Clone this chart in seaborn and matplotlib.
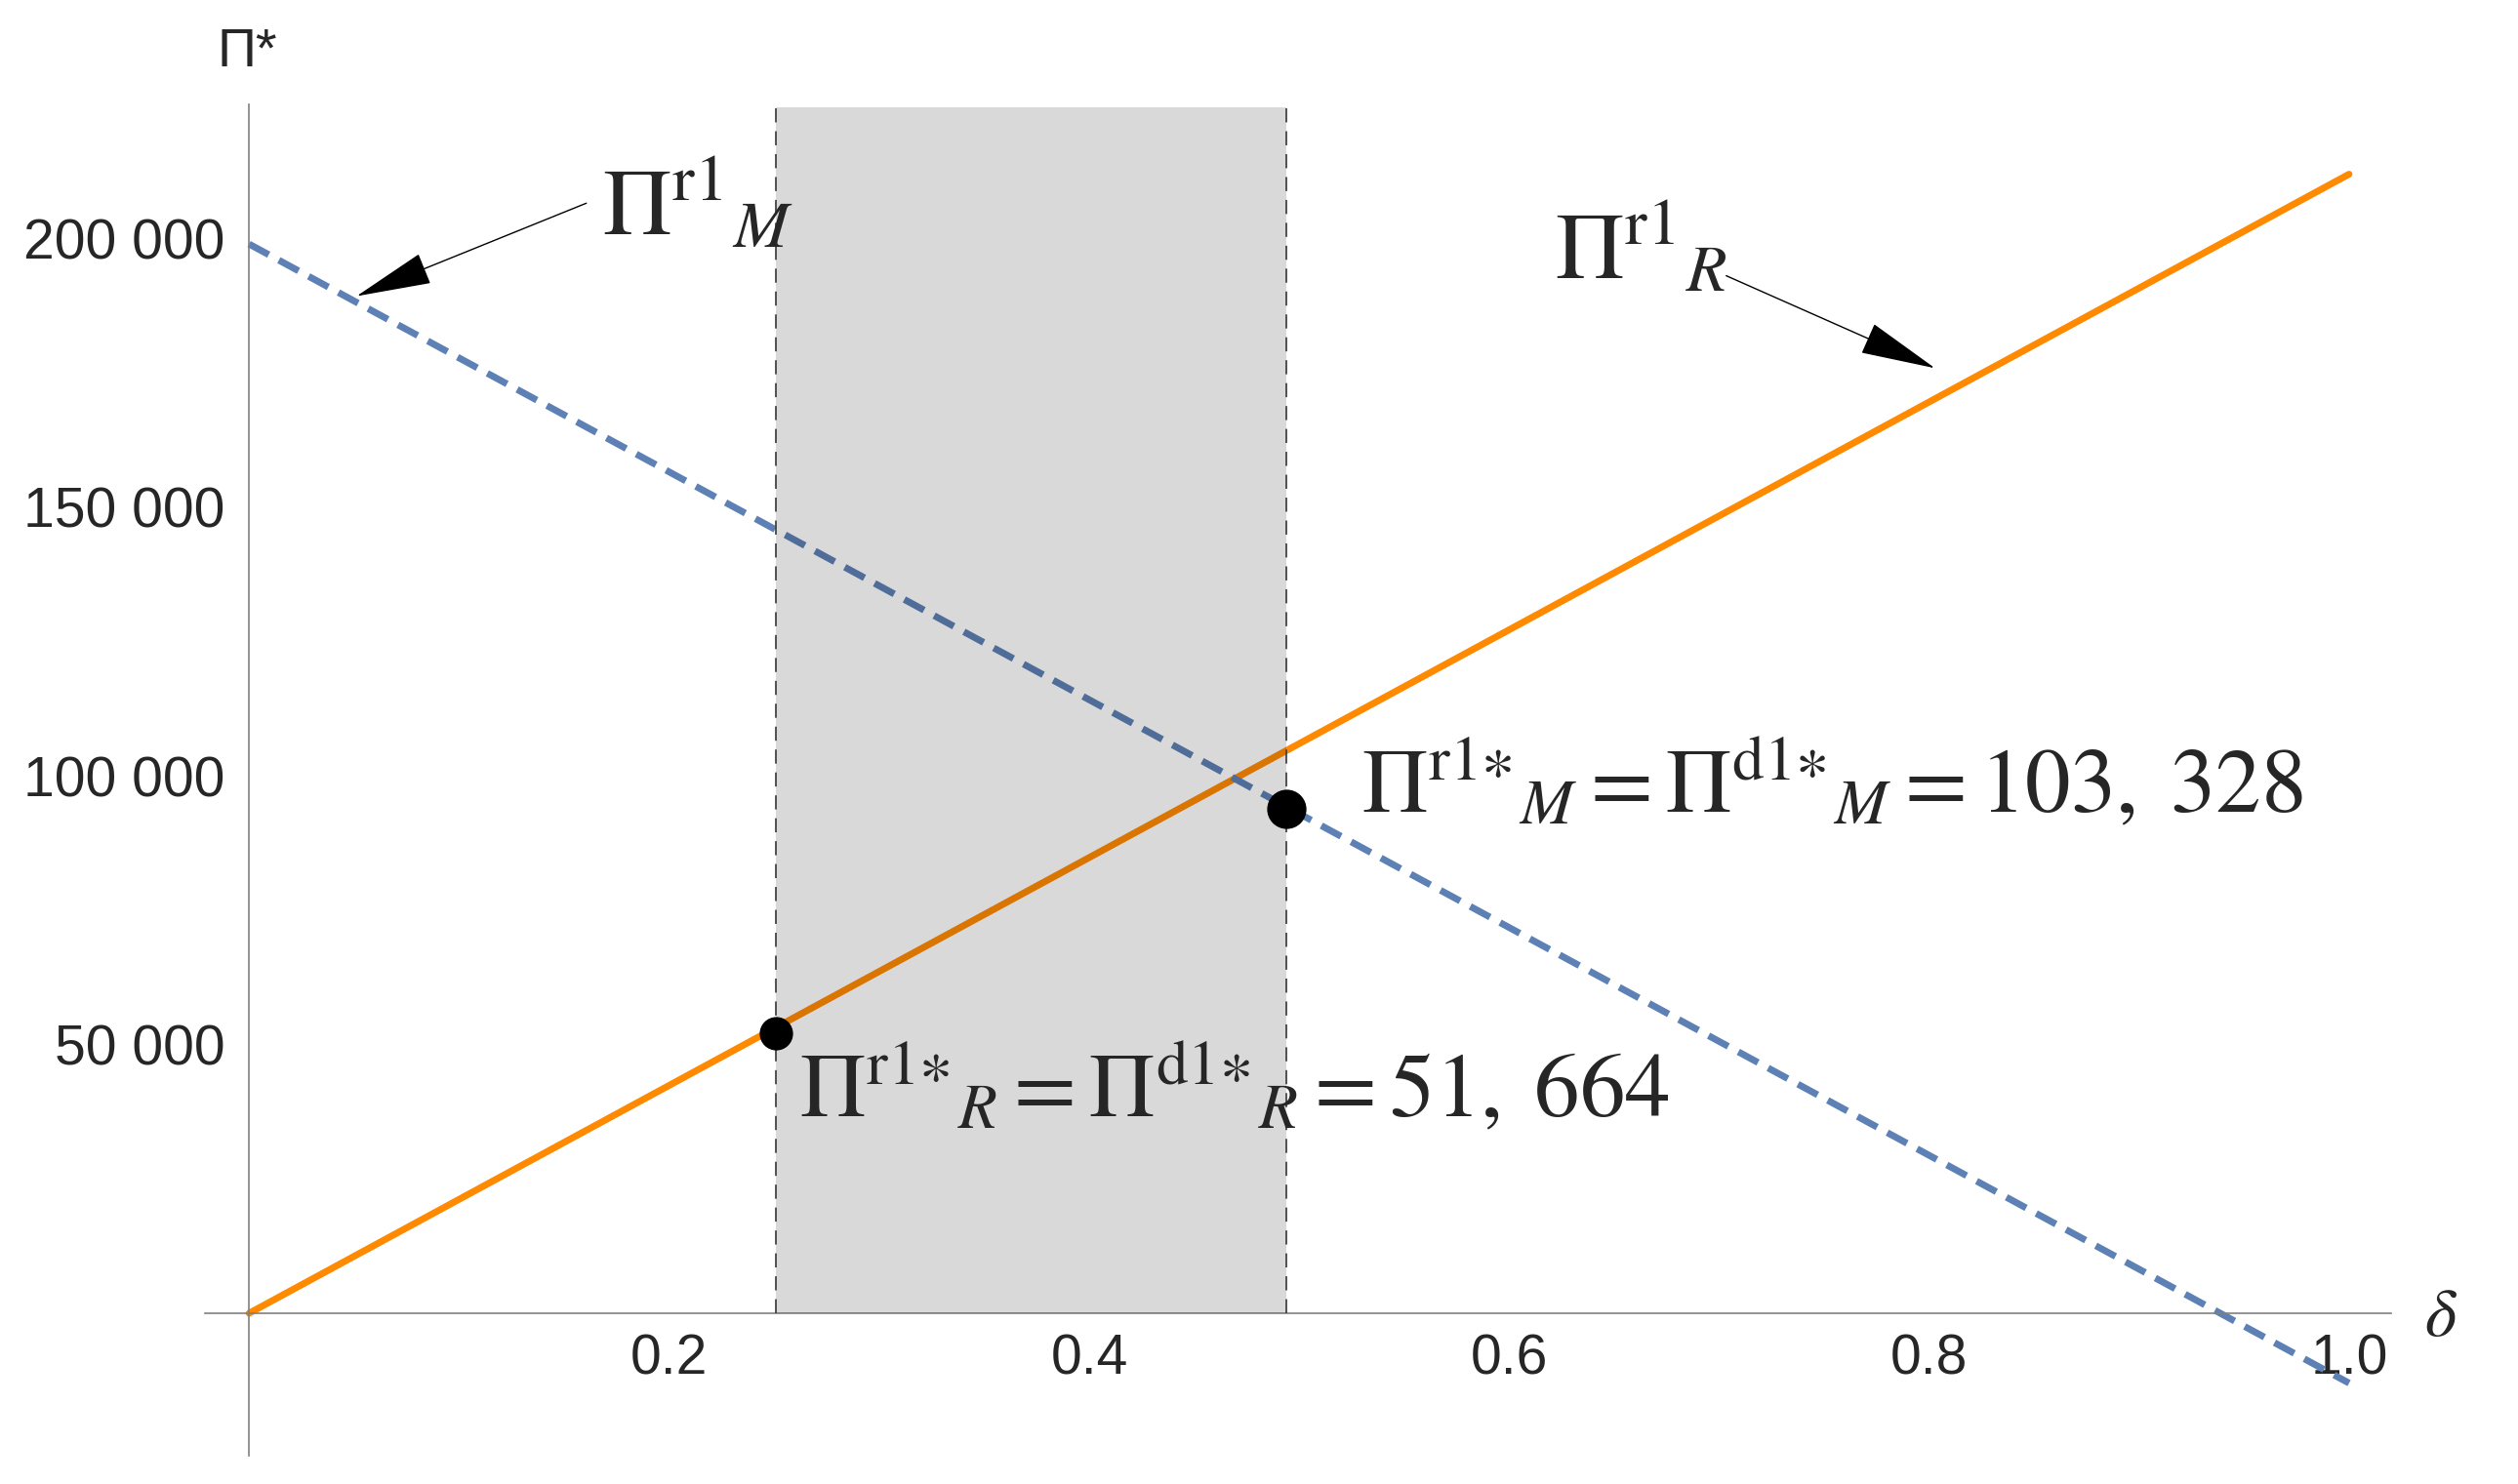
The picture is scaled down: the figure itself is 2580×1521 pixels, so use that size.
import numpy as np
import pandas as pd
import matplotlib
matplotlib.use("Agg")
import matplotlib.pyplot as plt
import seaborn as sns
from matplotlib.ticker import MultipleLocator, FixedLocator

# data
delta = [0.0, 1.0]
profit_R = [0, 212000]          # orange solid line
profit_M = [199000, -13000]     # blue dashed line

band_lo, band_hi, band_top = 0.2508, 0.4939, 224500

pt_delta = [0.2508, 0.4939]
pt_profit = [52100, 93800]
pt_size = [520, 720]

y_ticks = [50000, 100000, 150000, 200000]
y_ticklabels = ["50 000", "100 000", "150 000", "200 000"]
x_ticks = [0.2, 0.4, 0.6, 0.8, 1.0]
x_ticklabels = ["0.2", "0.4", "0.6", "0.8", "1.0"]

sns.set_style("white")
plt.rcParams["font.family"] = ["Liberation Sans", "DejaVu Sans"]
plt.rcParams["mathtext.fontset"] = "stix"

fig = plt.figure(figsize=(25.8, 15.21), dpi=100)
ax = fig.add_axes([0.0814, 0.0191, 0.8682, 0.9106])

df = pd.DataFrame({"delta": delta, "R": profit_R, "M": profit_M})
sns.lineplot(data=df, x="delta", y="R", color="#FF8A00", lw=5, ax=ax, zorder=2)
sns.lineplot(data=df, x="delta", y="M", color="#5E81B5", lw=5,
             linestyle=(0, (3.3, 1.7)), ax=ax, zorder=2)

# shaded interval on top of the lines
ax.fill_between([band_lo, band_hi], 0, band_top, color="black", alpha=0.15,
                lw=0, zorder=4)
ax.vlines([band_lo, band_hi], 0, band_top, colors="#444444",
          linestyles=(0, (8, 5)), lw=1.3, zorder=4)

for i in range(len(pt_delta)):
    sns.scatterplot(x=[pt_delta[i]], y=[pt_profit[i]], s=pt_size[i],
                    color="black", edgecolor="black", ax=ax, zorder=6)

ax.set_xlim(-0.021, 1.02)
ax.set_ylim(-26500, 225000)
ax.set_xlabel("")
ax.set_ylabel("")

# mathematica-like axes through the origin
for s in ["top", "right"]:
    ax.spines[s].set_visible(False)
for s in ["left", "bottom"]:
    ax.spines[s].set_position(("data", 0))
    ax.spines[s].set_color("#808080")
    ax.spines[s].set_linewidth(1.2)

ax.xaxis.set_major_locator(FixedLocator(x_ticks))
ax.set_xticklabels(x_ticklabels)
ax.xaxis.set_minor_locator(MultipleLocator(0.05))
ax.yaxis.set_major_locator(FixedLocator(y_ticks))
ax.set_yticklabels(y_ticklabels)
ax.yaxis.set_minor_locator(MultipleLocator(10000))
ax.tick_params(which="both", direction="in", color="#808080", width=1.2,
               labelsize=41)
ax.tick_params(which="major", length=11)
ax.tick_params(which="minor", length=6.5)
ax.tick_params(axis="x", pad=15)
ax.tick_params(axis="y", pad=18)

ax.text(-0.0153, 232000, "Π*", fontsize=40, ha="left", va="baseline",
        clip_on=False)
ax.text(1.036, -4200, r"$\delta$", fontsize=50, ha="left", va="baseline",
        clip_on=False)

# annotations
ax.text(0.168, 200600, r"$\Pi^{\mathrm{r1}}{}_{M}$", fontsize=70,
        ha="left", va="baseline", zorder=7)
ax.text(0.6216, 192500, r"$\Pi^{\mathrm{r1}}{}_{R}$", fontsize=70,
        ha="left", va="baseline", zorder=7)
ax.text(0.5298, 93300,
        r"$\Pi^{\mathrm{r1∗}}{}_{M} = \Pi^{\mathrm{d1∗}}{}_{M} = 103,\;328$",
        fontsize=67, ha="left", va="baseline", zorder=7)
ax.text(0.2622, 36700,
        r"$\Pi^{\mathrm{r1∗}}{}_{R} = \Pi^{\mathrm{d1∗}}{}_{R} = 51,\;664$",
        fontsize=67, ha="left", va="baseline", zorder=7)

arrow = dict(arrowstyle="-|>,head_length=1.7,head_width=0.36", lw=1,
             color="black", mutation_scale=30, shrinkA=0, shrinkB=0)
ax.annotate("", xy=(0.0512, 189300), xytext=(0.1606, 206600),
            arrowprops=arrow, zorder=7)
ax.annotate("", xy=(0.8028, 175900), xytext=(0.7034, 193100),
            arrowprops=arrow, zorder=7)

fig.savefig("out.png", dpi=100)
